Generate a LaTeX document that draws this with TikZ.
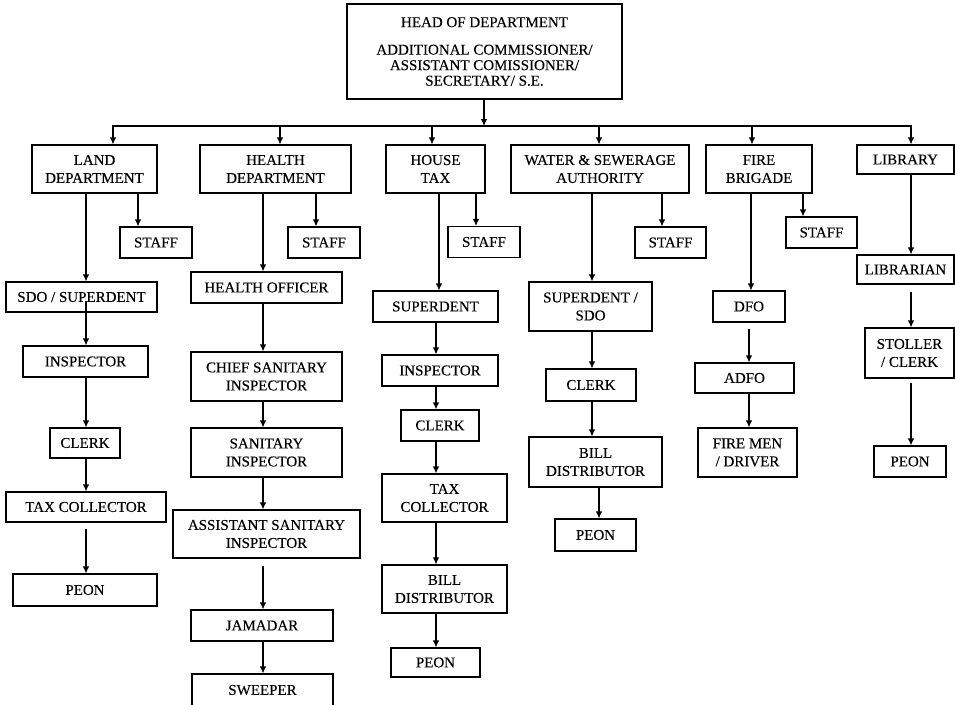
\documentclass[tikz,border=0pt]{standalone}
\usepackage{fontspec}
\setmainfont{Liberation Serif}[FakeBold=0.15]
\usetikzlibrary{arrows.meta}

\tikzset{
  orgbox/.style={draw, line width=1.1pt, inner sep=0pt, align=center,
    font=\fontsize{15}{18}\selectfont},
  arr/.style={-{Latex[length=7pt,width=6.5pt]}, line width=1.1pt}
}

\begin{document}
\begin{tikzpicture}[x=1pt, y=-1pt]
  \useasboundingbox (0,0) rectangle (955,704);
  \clip (0,0) rectangle (955,704);

  % head
  \node[orgbox, minimum width=275, minimum height=95, font=\fontsize{15}{15.5}\selectfont] (head) at (484.5,51.5)
    {HEAD OF DEPARTMENT\\[12pt]ADDITIONAL COMMISSIONER/\\ASSISTANT COMISSIONER/\\SECRETARY/ S.E.};

  % departments
  \node[orgbox, minimum width=125, minimum height=48] (land) at (94.5,169) {LAND\\DEPARTMENT};
  \node[orgbox, minimum width=151, minimum height=48] (health) at (275.5,169) {HEALTH\\DEPARTMENT};
  \node[orgbox, minimum width=99, minimum height=48] (house) at (435.5,169) {HOUSE\\TAX};
  \node[orgbox, minimum width=178, minimum height=48] (water) at (600,169) {WATER \& SEWERAGE\\AUTHORITY};
  \node[orgbox, minimum width=106, minimum height=48] (fire) at (759,169) {FIRE\\BRIGADE};
  \node[orgbox, minimum width=97, minimum height=29] (library) at (905.5,159.5) {LIBRARY};

  % staff
  \node[orgbox, minimum width=72, minimum height=31] (landstaff) at (156,242.5) {STAFF};
  \node[orgbox, minimum width=72, minimum height=31] (healthstaff) at (324,242.5) {STAFF};
  \node[orgbox, minimum width=72, minimum height=31] (housestaff) at (484,242) {STAFF};
  \node[orgbox, minimum width=71, minimum height=31] (waterstaff) at (670.5,242.5) {STAFF};
  \node[orgbox, minimum width=71, minimum height=31] (firestaff) at (821.5,232.5) {STAFF};

  % land column
  \node[orgbox, minimum width=151, minimum height=30] (landsdo) at (81.5,297) {SDO / SUPERDENT};
  \node[orgbox, minimum width=125, minimum height=31] (landinsp) at (85.5,361.5) {INSPECTOR};
  \node[orgbox, minimum width=70, minimum height=30] (landclerk) at (85,443) {CLERK};
  \node[orgbox, minimum width=160, minimum height=30] (landtax) at (86,507) {TAX COLLECTOR};
  \node[orgbox, minimum width=144, minimum height=32] (landpeon) at (85,590) {PEON};

  % health column
  \node[orgbox, minimum width=151, minimum height=31] (hofficer) at (266.5,287.5) {HEALTH OFFICER};
  \node[orgbox, minimum width=151, minimum height=49] (hchief) at (266.5,376.5) {CHIEF SANITARY\\INSPECTOR};
  \node[orgbox, minimum width=151, minimum height=49] (hsan) at (266.5,452.5) {SANITARY\\INSPECTOR};
  \node[orgbox, minimum width=187, minimum height=48] (hasst) at (266.5,534) {ASSISTANT SANITARY\\INSPECTOR};
  \node[orgbox, minimum width=142, minimum height=31] (hjamadar) at (262,625.5) {JAMADAR};
  \node[orgbox, minimum width=141, minimum height=32] (hsweeper) at (262.5,690) {SWEEPER};

  % house tax column
  \node[orgbox, minimum width=125, minimum height=31] (tsup) at (435.5,306.5) {SUPERDENT};
  \node[orgbox, minimum width=116, minimum height=31] (tinsp) at (440,370.5) {INSPECTOR};
  \node[orgbox, minimum width=78, minimum height=31] (tclerk) at (440,425.5) {CLERK};
  \node[orgbox, minimum width=125, minimum height=48] (ttax) at (444.5,498) {TAX\\COLLECTOR};
  \node[orgbox, minimum width=125, minimum height=48] (tbill) at (444.5,589) {BILL\\DISTRIBUTOR};
  \node[orgbox, minimum width=89, minimum height=29] (tpeon) at (435.5,662.5) {PEON};

  % water column
  \node[orgbox, minimum width=123, minimum height=49] (wsup) at (590.5,306.5) {SUPERDENT /\\SDO};
  \node[orgbox, minimum width=90, minimum height=32] (wclerk) at (591,385) {CLERK};
  \node[orgbox, minimum width=133, minimum height=50] (wbill) at (595.5,462) {BILL\\DISTRIBUTOR};
  \node[orgbox, minimum width=81, minimum height=32] (wpeon) at (595.5,535) {PEON};

  % fire column
  \node[orgbox, minimum width=72, minimum height=31] (fdfo) at (749,306.5) {DFO};
  \node[orgbox, minimum width=99, minimum height=30] (fadfo) at (744.5,378) {ADFO};
  \node[orgbox, minimum width=99, minimum height=49] (fmen) at (747.5,452.5) {FIRE MEN\\/ DRIVER};

  % library column
  \node[orgbox, minimum width=97, minimum height=29] (lbrarian) at (905.5,269.5) {LIBRARIAN};
  \node[orgbox, minimum width=89, minimum height=50] (lclerk) at (909.5,353) {STOLLER\\/ CLERK};
  \node[orgbox, minimum width=72, minimum height=31] (lpeon) at (910,461.5) {PEON};

  % bus
  \coordinate (bhead) at (484,126);
  \coordinate (bland) at (113,126);
  \coordinate (bhealth) at (280,126);
  \coordinate (bhouse) at (432,126);
  \coordinate (bwater) at (599,126);
  \coordinate (bfire) at (752,126);
  \coordinate (blib) at (911,126);
  \draw[arr] (head.south -| bhead) -- (bhead);
  \draw[{Latex[length=7pt,width=6.5pt]}-{Latex[length=7pt,width=6.5pt]}, line width=1.1pt]
    (bland |- land.north) -- (bland) -- (blib) -- (blib |- library.north);
  \foreach \b/\n in {bhealth/health, bhouse/house, bwater/water, bfire/fire}
    \draw[arr] (\b) -- (\b |- \n.north);

  % to staff
  \draw[arr] (land.south -| 138,0) -- (landstaff.north -| 138,0);
  \draw[arr] (health.south -| 316,0) -- (healthstaff.north -| 316,0);
  \draw[arr] (house.south -| 476,0) -- (housestaff.north -| 476,0);
  \draw[arr] (water.south -| 662,0) -- (waterstaff.north -| 662,0);
  \draw[arr] (fire.south -| 803,0) -- (firestaff.north -| 803,0);

  % land
  \draw[arr] (land.south -| 86,0) -- (landsdo.north -| 86,0);
  \draw[arr, shorten <=-12pt] (landsdo.south -| 86,0) -- (landinsp.north -| 86,0);
  \draw[arr] (landinsp.south -| 86,0) -- (landclerk.north -| 86,0);
  \draw[arr] (landclerk.south -| 86,0) -- (landtax.north -| 86,0);
  \draw[arr, shorten <=6pt] (landtax.south -| 86,0) -- (landpeon.north -| 86,0);

  % health
  \draw[arr] (health.south -| 263,0) -- (hofficer.north -| 263,0);
  \draw[arr] (hofficer.south -| 263,0) -- (hchief.north -| 263,0);
  \draw[arr] (hchief.south -| 263,0) -- (hsan.north -| 263,0);
  \draw[arr] (hsan.south -| 263,0) -- (hasst.north -| 263,0);
  \draw[arr, shorten <=7pt] (hasst.south -| 263,0) -- (hjamadar.north -| 263,0);
  \draw[arr] (hjamadar.south -| 263,0) -- (hsweeper.north -| 263,0);

  % house tax
  \draw[arr] (house.south -| 439,0) -- (tsup.north -| 439,0);
  \draw[arr] (tsup.south -| 436,0) -- (tinsp.north -| 436,0);
  \draw[arr] (tinsp.south -| 436,0) -- (tclerk.north -| 436,0);
  \draw[arr] (tclerk.south -| 436,0) -- (ttax.north -| 436,0);
  \draw[arr] (ttax.south -| 436,0) -- (tbill.north -| 436,0);
  \draw[arr] (tbill.south -| 436,0) -- (tpeon.north -| 436,0);

  % water
  \draw[arr] (water.south -| 592,0) -- (wsup.north -| 592,0);
  \draw[arr] (wsup.south -| 592,0) -- (wclerk.north -| 592,0);
  \draw[arr] (wclerk.south -| 592,0) -- (wbill.north -| 592,0);
  \draw[arr] (wbill.south -| 599,0) -- (wpeon.north -| 599,0);

  % fire
  \draw[arr] (fire.south -| 751,0) -- (fdfo.north -| 751,0);
  \draw[arr, shorten <=6pt] (fdfo.south -| 749,0) -- (fadfo.north -| 749,0);
  \draw[arr] (fadfo.south -| 749,0) -- (fmen.north -| 749,0);

  % library
  \draw[arr] (library.south -| blib) -- (lbrarian.north -| blib);
  \draw[arr, shorten <=7pt] (lbrarian.south -| blib) -- (lclerk.north -| blib);
  \draw[arr, shorten <=4pt] (lclerk.south -| blib) -- (lpeon.north -| blib);
\end{tikzpicture}
\end{document}
